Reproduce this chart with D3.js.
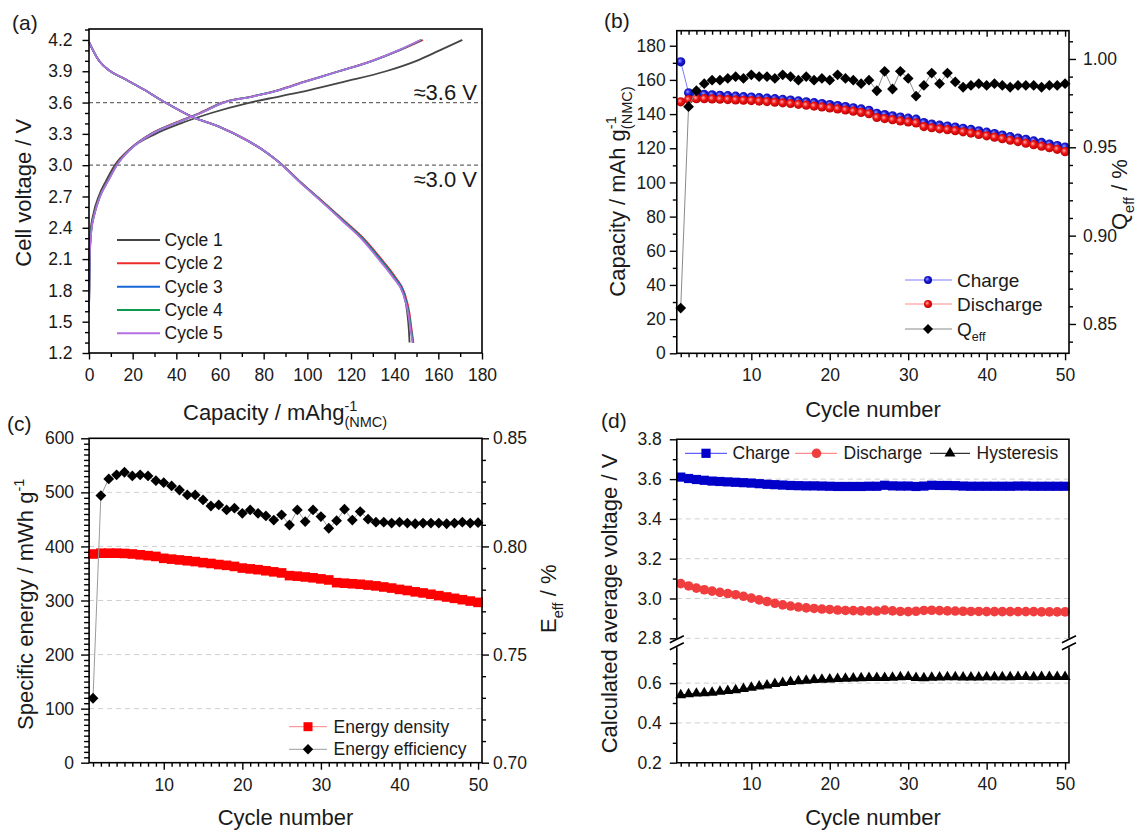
<!DOCTYPE html>
<html>
<head>
<meta charset="utf-8">
<script src="https://d3js.org/d3.v7.min.js"></script>
<style>
  body { margin: 0; background: #fff; }
  svg { display: block; }
  text { font-family: "Liberation Sans", Arial, Helvetica, sans-serif; fill: #1a1a1a; }
</style>
</head>
<body>
<div id="chart"></div>
<script>
// ---------- (a) voltage profiles ----------
const cycleNames = ["Cycle 1", "Cycle 2", "Cycle 3", "Cycle 4", "Cycle 5"];
const cycleColors = ["#454545", "#ee2b2b", "#1666d6", "#0c9a4e", "#b46fe2"];

const chargeVoltage = [1.6, 2.1, 2.35, 2.55, 2.7, 2.85, 3.0, 3.15, 3.3, 3.4, 3.5, 3.6, 3.66, 3.72, 3.8, 3.9, 4.0, 4.1, 4.2];
const chargeCap1 = [0, 0.2, 0.6, 2.2, 4.4, 7.8, 11.8, 18.5, 30.5, 42.0, 56.0, 73.7, 87.5, 101.0, 117.0, 136.0, 150.0, 160.6, 171.0];
const chargeCap2 = [0, 0.3, 0.9, 2.6, 4.9, 8.5, 12.4, 18.5, 28.3, 38.8, 50.7, 61.0, 74.8, 86.7, 98.6, 114.3, 129.6, 142.2, 153.0];
const chargeCap3 = [0, 0.3, 0.9, 2.7, 5.0, 8.6, 12.6, 18.7, 28.6, 39.1, 51.0, 61.4, 75.1, 87.0, 98.9, 114.5, 129.8, 141.9, 152.4];
const chargeCap4 = [0, 0.3, 0.9, 2.7, 5.0, 8.7, 12.7, 18.8, 28.7, 39.2, 51.2, 61.6, 75.3, 87.2, 99.0, 114.6, 129.9, 141.8, 152.1];
const chargeCap5 = [0, 0.3, 1.0, 2.8, 5.1, 8.8, 12.8, 18.9, 28.8, 39.3, 51.3, 61.7, 75.4, 87.3, 99.1, 114.6, 129.8, 141.6, 151.8];

const dischargeVoltage = [4.18, 4.0, 3.9, 3.83, 3.72, 3.6, 3.46, 3.37, 3.24, 3.12, 3.02, 2.84, 2.67, 2.47, 2.28, 2.09, 1.93, 1.77, 1.58, 1.42, 1.3];
const dischargeCap1 = [0, 4.6, 9.8, 16.0, 25.5, 35.0, 47.5, 59.5, 72.2, 81.4, 87.6, 96.7, 105.9, 116.3, 126.0, 133.6, 139.5, 144.0, 145.8, 146.5, 146.8];
const dischargeCap2 = [0, 4.6, 9.8, 16.0, 25.5, 35.0, 47.5, 59.5, 72.2, 81.4, 87.6, 96.8, 106.1, 116.8, 126.6, 134.3, 140.2, 144.6, 146.8, 147.8, 148.6];
const dischargeCap3 = [0, 4.6, 9.8, 16.0, 25.5, 35.0, 47.5, 59.5, 72.2, 81.4, 87.5, 96.6, 105.8, 116.4, 126.1, 133.8, 139.7, 144.3, 146.5, 147.6, 148.4];
const dischargeCap4 = [0, 4.6, 9.8, 16.0, 25.5, 35.0, 47.5, 59.5, 72.2, 81.4, 87.5, 96.5, 105.7, 116.2, 125.8, 133.4, 139.4, 144.0, 146.4, 147.5, 148.3];
const dischargeCap5 = [0, 4.6, 9.8, 16.0, 25.5, 35.0, 47.5, 59.5, 72.2, 81.4, 87.4, 96.4, 105.5, 115.8, 125.4, 133.0, 139.0, 143.8, 146.2, 147.3, 148.2];

const chargeCaps = [chargeCap1, chargeCap2, chargeCap3, chargeCap4, chargeCap5];
const dischargeCaps = [dischargeCap1, dischargeCap2, dischargeCap3, dischargeCap4, dischargeCap5];

// ---------- (b) capacity retention ----------
const cycles = d3.range(1, 51);
const capCharge = [170.6, 152.5, 151.8, 151.5, 151.3, 151.0, 150.8, 150.5, 150.2, 150.0,
  149.6, 149.3, 149.0, 148.6, 148.2, 147.7, 147.2, 146.7, 146.2, 145.6,
  145.0, 144.4, 143.7, 143.0, 142.2, 140.5, 139.7, 139.0, 138.3, 137.6,
  137.0, 135.0, 134.2, 133.5, 133.0, 132.4, 131.7, 131.0, 130.2, 129.4,
  128.6, 127.7, 126.8, 126.0, 125.2, 124.3, 123.4, 122.5, 121.6, 120.7];
const capDischarge = [147.2, 148.5, 149.0, 149.0, 148.9, 148.7, 148.5, 148.3, 148.1, 147.9,
  147.6, 147.3, 147.0, 146.6, 146.2, 145.7, 145.2, 144.7, 144.2, 143.6,
  143.0, 142.4, 141.7, 141.0, 140.2, 138.0, 137.4, 136.7, 136.0, 135.4,
  134.8, 132.7, 132.0, 131.4, 130.9, 130.3, 129.6, 128.9, 128.1, 127.3,
  126.5, 125.6, 124.7, 123.9, 123.0, 122.1, 121.2, 120.3, 119.4, 118.0];
const qEff = [0.859, 0.973, 0.982, 0.986, 0.988, 0.988, 0.989, 0.990, 0.989, 0.991,
  0.990, 0.990, 0.989, 0.991, 0.990, 0.988, 0.990, 0.988, 0.989, 0.988,
  0.991, 0.989, 0.988, 0.986, 0.988, 0.982, 0.993, 0.983, 0.993, 0.989,
  0.979, 0.985, 0.992, 0.986, 0.992, 0.987, 0.984, 0.985, 0.986, 0.985,
  0.986, 0.985, 0.984, 0.985, 0.985, 0.985, 0.984, 0.985, 0.985, 0.986];

// ---------- (c) energy ----------
const energyDensity = [386, 387.5, 387.5, 387.5, 387, 386, 384.5, 383, 381.5, 378,
  376.5, 375, 373.5, 372, 370, 368.5, 366.5, 365, 363, 360,
  358.5, 357, 355, 353, 351, 346, 345, 343.5, 342, 340,
  338, 333, 332, 331, 330, 328.5, 327, 325, 323, 320.5,
  318.5, 316, 314, 311.5, 309, 306.5, 304, 301.5, 299, 296.5];
const energyEff = [0.7298, 0.8235, 0.8312, 0.8331, 0.8343, 0.8326, 0.8331, 0.8326, 0.8304, 0.8295,
  0.8280, 0.8261, 0.8238, 0.8238, 0.8215, 0.8187, 0.8192, 0.8169, 0.8177, 0.8153,
  0.8169, 0.8153, 0.8141, 0.8122, 0.8146, 0.8099, 0.8169, 0.8115, 0.8169, 0.8138,
  0.8084, 0.8119, 0.8172, 0.8122, 0.8161, 0.8126, 0.8112, 0.8112, 0.8108, 0.8112,
  0.8108, 0.8105, 0.8108, 0.8108, 0.8108, 0.8105, 0.8108, 0.8112, 0.8108, 0.8110];

// ---------- (d) average voltage ----------
const avgCharge = [3.610, 3.603, 3.598, 3.594, 3.590, 3.588, 3.586, 3.584, 3.582, 3.580,
  3.577, 3.574, 3.572, 3.570, 3.568, 3.567, 3.566, 3.566, 3.565, 3.564,
  3.563, 3.563, 3.563, 3.563, 3.564, 3.564, 3.569, 3.566, 3.565, 3.565,
  3.563, 3.565, 3.569, 3.568, 3.568, 3.567, 3.565, 3.564, 3.564, 3.564,
  3.564, 3.564, 3.564, 3.565, 3.565, 3.564, 3.564, 3.564, 3.564, 3.564];
const avgDischarge = [3.075, 3.063, 3.052, 3.044, 3.037, 3.031, 3.025, 3.019, 3.011, 3.002,
  2.993, 2.985, 2.976, 2.968, 2.962, 2.957, 2.953, 2.950, 2.947, 2.945,
  2.942, 2.940, 2.939, 2.938, 2.938, 2.937, 2.942, 2.938, 2.935, 2.934,
  2.936, 2.940, 2.941, 2.939, 2.938, 2.937, 2.936, 2.935, 2.935, 2.934,
  2.934, 2.934, 2.934, 2.934, 2.934, 2.934, 2.933, 2.933, 2.933, 2.933];
const hysteresis = [0.540, 0.545, 0.548, 0.550, 0.553, 0.557, 0.561, 0.565, 0.571, 0.578,
  0.584, 0.589, 0.596, 0.602, 0.606, 0.610, 0.613, 0.616, 0.618, 0.619,
  0.621, 0.623, 0.624, 0.625, 0.626, 0.627, 0.627, 0.628, 0.630, 0.631,
  0.627, 0.625, 0.628, 0.629, 0.630, 0.630, 0.629, 0.629, 0.629, 0.630,
  0.630, 0.630, 0.630, 0.631, 0.631, 0.630, 0.631, 0.631, 0.631, 0.631];

// tick values
const ticksAX = [0, 20, 40, 60, 80, 100, 120, 140, 160, 180];
const ticksAXMinor = [10, 30, 50, 70, 90, 110, 130, 150, 170];
const ticksAY = [1.2, 1.5, 1.8, 2.1, 2.4, 2.7, 3.0, 3.3, 3.6, 3.9, 4.2];
const ticksAYMinor = [1.3, 1.4, 1.6, 1.7, 1.9, 2.0, 2.2, 2.3, 2.5, 2.6, 2.8, 2.9, 3.1, 3.2, 3.4, 3.5, 3.7, 3.8, 4.0, 4.1, 4.3];
const ticksCycle = [10, 20, 30, 40, 50];
const ticksCycleMinor = cycles.filter(c => c % 10 !== 0);
const ticksBY = [0, 20, 40, 60, 80, 100, 120, 140, 160, 180];
const ticksBYMinor = [10, 30, 50, 70, 90, 110, 130, 150, 170];
const ticksBY2 = [0.85, 0.90, 0.95, 1.00];
const ticksBY2Minor = [0.84, 0.86, 0.87, 0.88, 0.89, 0.91, 0.92, 0.93, 0.94, 0.96, 0.97, 0.98, 0.99, 1.01];
const ticksCY = [0, 100, 200, 300, 400, 500, 600];
const ticksCYMinor = d3.range(10, 600, 10).filter(v => v % 100 !== 0);
const ticksCY2 = [0.70, 0.75, 0.80, 0.85];
const ticksCY2Minor = [0.71, 0.72, 0.73, 0.74, 0.76, 0.77, 0.78, 0.79, 0.81, 0.82, 0.83, 0.84];
const ticksDUp = [2.8, 3.0, 3.2, 3.4, 3.6, 3.8];
const ticksDUpMinor = [2.9, 3.1, 3.3, 3.5, 3.7];
const ticksDLow = [0.2, 0.4, 0.6];
const ticksDLowMinor = [0.3, 0.5, 0.7];

const FONT = '"Liberation Sans", Arial, Helvetica, sans-serif';
const FS_TICK = 17.5;
const FS_TITLE = 22;
const FS_LEGEND = 17.5;

const svg = d3.select("#chart").append("svg")
	.attr("width", 1142)
	.attr("height", 830);
svg.append("rect").attr("width", 1142).attr("height", 830).attr("fill", "#fff");

const defs = svg.append("defs");
function ball (id, light, mid, dark) {
	const g = defs.append("radialGradient").attr("id", id)
		.attr("cx", 0.45).attr("cy", 0.45).attr("r", 0.6).attr("fx", 0.38).attr("fy", 0.38);
	g.append("stop").attr("offset", 0).attr("stop-color", light);
	g.append("stop").attr("offset", 0.45).attr("stop-color", mid);
	g.append("stop").attr("offset", 1).attr("stop-color", dark);
}
ball("ballBlue", "#9a9aff", "#1e1ed8", "#00009a");
ball("ballRed", "#ffb0b0", "#f01414", "#b00000");

function drawTicks (g, orient, scale, values, size, padding, fmt) {
	const maker = { left: d3.axisLeft, right: d3.axisRight, top: d3.axisTop, bottom: d3.axisBottom }[orient];
	g.call(maker(scale)
		.tickValues(values)
		.tickSize(size)
		.tickPadding(padding)
		.tickFormat(fmt ? fmt : () => ""));
	g.select(".domain").remove();
	g.attr("font-family", FONT).attr("font-size", FS_TICK);
	g.selectAll(".tick line").attr("stroke", "#000").attr("stroke-width", 1.4);
	g.selectAll(".tick text").attr("fill", "#1a1a1a");
}

function axis (orient, scale, pos, major, minor, opts) {
	const tr = (orient === "left" || orient === "right") ? `translate(${pos},0)` : `translate(0,${pos})`;
	const dir = opts.inward ? -1 : 1;
	if (minor) {
		drawTicks(svg.append("g").attr("transform", tr), orient, scale, minor, dir * (opts.minorSize || 4), 0, null);
	}
	drawTicks(svg.append("g").attr("transform", tr), orient, scale, major, dir * (opts.size || 7), opts.pad || 0, opts.fmt);
}

function frame (x0, x1, y0, y1) {
	svg.append("rect")
		.attr("x", x0).attr("y", y1)
		.attr("width", x1 - x0).attr("height", y0 - y1)
		.attr("fill", "none").attr("stroke", "#000").attr("stroke-width", 1.6);
}

function richText (x, y, rotate, parts, size, anchor) {
	const t = svg.append("text")
		.attr("transform", `translate(${x},${y})` + (rotate ? ` rotate(${rotate})` : ""))
		.attr("text-anchor", anchor || "start")
		.attr("font-size", size);
	let shift = 0;
	let supW = 0;
	parts.forEach(p => {
		const s = t.append("tspan").text(p.text);
		if (p.sup) {
			s.attr("font-size", size * 0.66).attr("dy", -size * 0.42 - shift);
			shift = -size * 0.42;
			supW = s.node().getComputedTextLength();
		} else if (p.sub) {
			s.attr("font-size", size * 0.66).attr("dy", size * 0.3 - shift);
			if (p.stack) s.attr("dx", -supW);
			shift = size * 0.3;
		} else if (shift) {
			s.attr("dy", -shift);
			shift = 0;
		}
	});
	return t;
}

function diamondPath (r) {
	return `M0,${-r}L${r},0L0,${r}L${-r},0Z`;
}

function markers (data, x, y, kind, fill, size) {
	const g = svg.append("g");
	const sel = g.selectAll("path").data(data).enter().append("path")
		.attr("transform", d => `translate(${x(d[0])},${y(d[1])})`)
		.attr("fill", fill);
	if (kind === "diamond") sel.attr("d", diamondPath(size));
	if (kind === "square") sel.attr("d", `M${-size},${-size}h${2 * size}v${2 * size}h${-2 * size}Z`);
	if (kind === "circle") sel.attr("d", d3.symbol(d3.symbolCircle, Math.PI * size * size)());
	if (kind === "triangle") sel.attr("d", d3.symbol(d3.symbolTriangle, size)());
	return g;
}

function connect (data, x, y, color, width) {
	svg.append("path")
		.datum(data)
		.attr("fill", "none")
		.attr("stroke", color)
		.attr("stroke-width", width || 1)
		.attr("d", d3.line().x(d => x(d[0])).y(d => y(d[1])));
}

function hGrid (scale, values, x0, x1) {
	svg.append("g").selectAll("line").data(values).enter().append("line")
		.attr("x1", x0).attr("x2", x1)
		.attr("y1", d => scale(d)).attr("y2", d => scale(d))
		.attr("stroke", "#cfcfcf").attr("stroke-width", 1).attr("stroke-dasharray", "5,4");
}

function panelLabel (txt, x, y) {
	svg.append("text").attr("x", x).attr("y", y).attr("font-size", 21).text(txt);
}

// =============== (a) ===============
const xA = d3.scaleLinear().domain([0, 180]).range([89, 482]);
const yA = d3.scaleLinear().domain([1.2, 4.305]).range([353, 29]);

[3.6, 3.0].forEach(v => {
	svg.append("line")
		.attr("x1", xA(0)).attr("x2", xA(180))
		.attr("y1", yA(v)).attr("y2", yA(v))
		.attr("stroke", "#6a6a6a").attr("stroke-width", 1.2).attr("stroke-dasharray", "4,3");
});

const lineA = d3.line().x(d => xA(d[0])).y(d => yA(d[1])).curve(d3.curveMonotoneX);
cycleNames.forEach((name, i) => {
	const ch = chargeCaps[i].map((c, j) => [c, chargeVoltage[j]]);
	const dis = dischargeCaps[i].map((c, j) => [c, dischargeVoltage[j]]);
	[ch, dis].forEach(pts => {
		svg.append("path").datum(pts)
			.attr("fill", "none")
			.attr("stroke", cycleColors[i])
			.attr("stroke-width", 1.8)
			.attr("d", lineA);
	});
});

frame(89, 482, 353, 29);
axis("bottom", xA, 353, ticksAX, ticksAXMinor, { size: 6.5, pad: 9, fmt: d3.format("d") });
axis("left", yA, 89, ticksAY, ticksAYMinor, { size: 6.5, pad: 10, fmt: d3.format(".1f") });

svg.append("text").attr("x", 477).attr("y", 100).attr("text-anchor", "end").attr("font-size", 22).text("\u22483.6 V");
svg.append("text").attr("x", 477).attr("y", 187).attr("text-anchor", "end").attr("font-size", 22).text("\u22483.0 V");

const legA = [240, 263.3, 286.7, 310, 333.3];
cycleNames.forEach((name, i) => {
	svg.append("line")
		.attr("x1", 117).attr("x2", 160).attr("y1", legA[i]).attr("y2", legA[i])
		.attr("stroke", cycleColors[i]).attr("stroke-width", 2);
	svg.append("text").attr("x", 164.5).attr("y", legA[i]).attr("dy", "0.35em")
		.attr("font-size", FS_LEGEND).text(name);
});

richText(31, 266.7, -90, [{ text: "Cell voltage / V" }], FS_TITLE);
richText(183, 420, 0, [{ text: "Capacity / mAhg" }, { text: "-1", sup: true }, { text: "(NMC)", sub: true, stack: true }], FS_TITLE);
panelLabel("(a)", 12, 30);

// =============== (b) ===============
const xB = d3.scaleLinear().domain([0.5, 50.5]).range([676.8, 1069]);
const yB = d3.scaleLinear().domain([0, 188.8]).range([353.3, 30.7]);
const yB2 = d3.scaleLinear().domain([0.8334, 1.016]).range([353.3, 30.7]);

const chB = cycles.map((c, i) => [c, capCharge[i]]);
const disB = cycles.map((c, i) => [c, capDischarge[i]]);
const qB = cycles.map((c, i) => [c, qEff[i]]);

connect(chB, xB, yB, "#7b7bff", 1);
markers(chB, xB, yB, "circle", "url(#ballBlue)", 4.6);
connect(disB, xB, yB, "#ff8a8a", 1);
markers(disB, xB, yB, "circle", "url(#ballRed)", 4.6);
connect(qB, xB, yB2, "#8a8a8a", 1);
markers(qB, xB, yB2, "diamond", "#000", 5.4);

frame(676.8, 1069, 353.3, 30.7);
axis("bottom", xB, 353.3, ticksCycle, ticksCycleMinor, { size: 7, pad: 8, fmt: d3.format("d") });
axis("top", xB, 30.7, ticksCycle, ticksCycleMinor, { size: 6, minorSize: 4, inward: true, fmt: null });
axis("left", yB, 676.8, ticksBY, ticksBYMinor, { size: 7, pad: 4, fmt: d3.format("d") });
axis("right", yB2, 1069, ticksBY2, ticksBY2Minor, { size: 7, pad: 7, fmt: d3.format(".2f") });

const legB = [
	{ y: 280, fill: "url(#ballBlue)", line: "#7b7bff", kind: "circle", parts: [{ text: "Charge" }] },
	{ y: 304, fill: "url(#ballRed)", line: "#ff8a8a", kind: "circle", parts: [{ text: "Discharge" }] },
	{ y: 329, fill: "#000", line: "#8a8a8a", kind: "diamond", parts: [{ text: "Q" }, { text: "eff", sub: true }] }
];
legB.forEach(d => {
	svg.append("line").attr("x1", 905).attr("x2", 952).attr("y1", d.y).attr("y2", d.y)
		.attr("stroke", d.line).attr("stroke-width", 1);
	const p = svg.append("path").attr("transform", `translate(928,${d.y})`).attr("fill", d.fill);
	if (d.kind === "circle") p.attr("d", d3.symbol(d3.symbolCircle, Math.PI * 16)());
	else p.attr("d", diamondPath(5));
	richText(957, d.y + 6.5, 0, d.parts, 19);
});

richText(625, 296.7, -90, [{ text: "Capacity / mAh g" }, { text: "-1", sup: true }, { text: "(NMC)", sub: true, stack: true }], FS_TITLE);
richText(1127, 230, -90, [{ text: "Q" }, { text: "eff", sub: true }, { text: " / %" }], FS_TITLE);
richText(873, 417, 0, [{ text: "Cycle number" }], FS_TITLE, "middle");
panelLabel("(b)", 604, 28);

// =============== (c) ===============
const xC = d3.scaleLinear().domain([0.5, 50.5]).range([89.1, 482]);
const yC = d3.scaleLinear().domain([0, 600]).range([762.7, 438.3]);
const yC2 = d3.scaleLinear().domain([0.70, 0.85]).range([762.7, 438.3]);

hGrid(yC, [100, 200, 300, 400, 500], 89.1, 482);

const edC = cycles.map((c, i) => [c, energyDensity[i]]);
const eeC = cycles.map((c, i) => [c, energyEff[i]]);
connect(edC, xC, yC, "#ff8080", 1);
markers(edC, xC, yC, "square", "#ff0000", 4.8);
connect(eeC, xC, yC2, "#9a9a9a", 1);
markers(eeC, xC, yC2, "diamond", "#000", 5.4);

frame(89.1, 482, 762.7, 438.3);
axis("bottom", xC, 762.7, ticksCycle, ticksCycleMinor, { size: 7, pad: 8.5, fmt: d3.format("d") });
axis("left", yC, 89.1, ticksCY, ticksCYMinor, { size: 8, minorSize: 5, pad: 7, fmt: d3.format("d") });
axis("right", yC2, 482, ticksCY2, ticksCY2Minor, { size: 7, pad: 4, fmt: d3.format(".2f") });

const legC = [
	{ y: 726.7, line: "#ff8080", fill: "#ff0000", kind: "square", text: "Energy density" },
	{ y: 749.3, line: "#9a9a9a", fill: "#000", kind: "diamond", text: "Energy efficiency" }
];
legC.forEach(d => {
	svg.append("line").attr("x1", 289).attr("x2", 327).attr("y1", d.y).attr("y2", d.y)
		.attr("stroke", d.line).attr("stroke-width", 1);
	const p = svg.append("path").attr("transform", `translate(308,${d.y})`).attr("fill", d.fill);
	if (d.kind === "square") p.attr("d", "M-4.5,-4.5h9v9h-9Z");
	else p.attr("d", diamondPath(5.2));
	svg.append("text").attr("x", 333.5).attr("y", d.y).attr("dy", "0.35em")
		.attr("font-size", FS_LEGEND).text(d.text);
});

richText(33, 730, -90, [{ text: "Specific energy / mWh g" }, { text: "-1", sup: true }], FS_TITLE);
richText(556, 633, -90, [{ text: "E" }, { text: "eff", sub: true }, { text: " / %" }], FS_TITLE);
richText(285.5, 824.5, 0, [{ text: "Cycle number" }], FS_TITLE, "middle");
panelLabel("(c)", 7, 430.5);

// =============== (d) ===============
const xD = d3.scaleLinear().domain([0.5, 50.5]).range([676.8, 1069]);
const yDu = d3.scaleLinear().domain([2.8, 3.8]).range([638.3, 439.3]);
const yDl = d3.scaleLinear().domain([0.2, 0.78]).range([762.7, 647.3]);

hGrid(yDu, [2.8, 3.0, 3.2, 3.4, 3.6], 676.8, 1069);
hGrid(yDl, [0.4, 0.6], 676.8, 1069);

const chD = cycles.map((c, i) => [c, avgCharge[i]]);
const disD = cycles.map((c, i) => [c, avgDischarge[i]]);
const hyD = cycles.map((c, i) => [c, hysteresis[i]]);
connect(chD, xD, yDu, "#3a3aff", 1);
markers(chD, xD, yDu, "square", "#0000c8", 4.6);
connect(disD, xD, yDu, "#ff7070", 1);
markers(disD, xD, yDu, "circle", "#f03e3e", 4.8);
connect(hyD, xD, yDl, "#000", 1);
markers(hyD, xD, yDl, "triangle", "#000", 52);

// frame with axis break
const gapTop = 638.3, gapBot = 647.3;
const frameD = svg.append("g").attr("stroke", "#000").attr("stroke-width", 1.6).attr("fill", "none");
frameD.append("path").attr("d", `M676.8,${gapTop}V439.3H1069V${gapTop}`);
frameD.append("path").attr("d", `M676.8,${gapBot}V762.7H1069V${gapBot}`);
[676.8, 1069].forEach(x => {
	[gapTop + 1, gapBot - 1].forEach(y => {
		frameD.append("line")
			.attr("x1", x - 7).attr("y1", y + 3.5).attr("x2", x + 7).attr("y2", y - 3.5);
	});
});

axis("bottom", xD, 762.7, ticksCycle, ticksCycleMinor, { size: 7, pad: 8, fmt: d3.format("d") });
axis("left", yDu, 676.8, ticksDUp, ticksDUpMinor, { size: 7, pad: 8, fmt: d3.format(".1f") });
axis("left", yDl, 676.8, ticksDLow, ticksDLowMinor, { size: 7, pad: 8, fmt: d3.format(".1f") });

const legD = [
	{ x1: 685, x2: 727, mx: 706, tx: 732.5, line: "#3a3aff", fill: "#0000c8", kind: "square", text: "Charge" },
	{ x1: 795, x2: 837, mx: 816.5, tx: 843.5, line: "#ff7070", fill: "#f03e3e", kind: "circle", text: "Discharge" },
	{ x1: 930, x2: 970, mx: 950, tx: 976.5, line: "#000", fill: "#000", kind: "triangle", text: "Hysteresis" }
];
legD.forEach(d => {
	svg.append("line").attr("x1", d.x1).attr("x2", d.x2).attr("y1", 453.3).attr("y2", 453.3)
		.attr("stroke", d.line).attr("stroke-width", 1);
	const p = svg.append("path").attr("transform", `translate(${d.mx},453.3)`).attr("fill", d.fill);
	if (d.kind === "square") p.attr("d", "M-4.6,-4.6h9.2v9.2h-9.2Z");
	if (d.kind === "circle") p.attr("d", d3.symbol(d3.symbolCircle, Math.PI * 4.8 * 4.8)());
	if (d.kind === "triangle") p.attr("d", d3.symbol(d3.symbolTriangle, 52)());
	svg.append("text").attr("x", d.tx).attr("y", 453.3).attr("dy", "0.35em")
		.attr("font-size", FS_LEGEND).text(d.text);
});

richText(617, 753.3, -90, [{ text: "Calculated average voltage / V" }], FS_TITLE);
richText(873, 824.5, 0, [{ text: "Cycle number" }], FS_TITLE, "middle");
panelLabel("(d)", 601, 427.5);
</script>
</body>
</html>
